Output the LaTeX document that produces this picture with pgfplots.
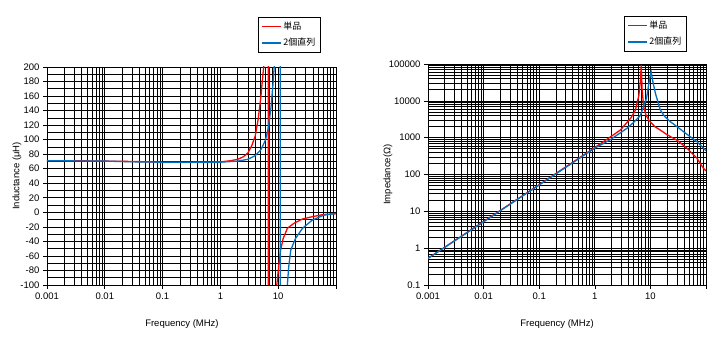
\documentclass[border=0pt]{standalone}
\usepackage{pgfplots}
\pgfplotsset{compat=1.18}
\usepackage{fontspec}
\setmainfont{Liberation Sans}
\newfontfamily\cjk{Noto Sans CJK JP}
\definecolor{xlred}{RGB}{255,0,0}
\definecolor{xlblue}{RGB}{0,112,192}
\pgfplotsset{
  redleg/.style={legend image code/.code={\draw[draw=xlred, line width=1.3pt] (0pt,0pt) -- (19pt,0pt);}},
  blueleg/.style={legend image code/.code={\draw[draw=xlblue, line width=1.3pt] (0pt,0pt) -- (19pt,0pt);}},
}
\begin{document}
\begin{tikzpicture}
\path[use as bounding box] (0,0) rectangle (728pt,340pt);
% ---------------- Left: inductance ----------------
\begin{axis}[
  scale only axis, anchor=south west,
  at={(47pt,55pt)}, width=289pt, height=218pt,
  xmode=log, xmin=0.001, xmax=100,
  xtick={0.001,0.01,0.1,1,10,100},
  xticklabels={0.001,0.01,0.1,1,10,{}},
  minor xtick={0.002,0.003,0.004,0.005,0.006,0.007,0.008,0.009,
               0.02,0.03,0.04,0.05,0.06,0.07,0.08,0.09,
               0.2,0.3,0.4,0.5,0.6,0.7,0.8,0.9,
               2,3,4,5,6,7,8,9,20,30,40,50,60,70,80,90},
  ymin=-100, ymax=200,
  ytick={-100,-80,-60,-40,-20,0,20,40,60,80,100,120,140,160,180,200},
  minor ytick={-90,-70,-50,-30,-10,10,30,50,70,90,110,130,150,170,190},
  xtick pos=bottom, ytick pos=left,
  grid=both,
  major grid style={black, line width=0.65pt},
  minor grid style={black, line width=0.65pt},
  tick align=outside, major tick length=4pt, minor tick length=0pt,
  tick style={black, line width=0.6pt},
  axis line style={black, line width=0.8pt},
  ticklabel style={font=\fontsize{9.5}{11}\selectfont},
  label style={font=\fontsize{9.5}{11}\selectfont},
  /pgf/number format/assume math mode=true,
  xlabel={Frequency (MHz)},
  ylabel={Inductance (μH)},
  ylabel style={at={(axis description cs:-0.104,0.5)}, anchor=center},
  xlabel style={at={(axis description cs:0.467,0)}, anchor=north, yshift=-31pt},
  legend cell align=left,
  legend style={at={(axis description cs:0.730,1.229)}, anchor=north west,
    draw=black, fill=white,
    font=\cjk\fontsize{9}{10}\selectfont, inner xsep=3pt, inner ysep=3pt, row sep=3pt},
]
\addlegendimage{redleg}
\addlegendentry{単品}
\addlegendimage{blueleg}
\addlegendentry{2個直列}
\addplot[color=xlred, line width=1.3pt, forget plot] coordinates {
(0.001,71) (0.003,71) (0.01,70.5) (0.03,70) (0.1,69) (0.3,69) (1,69.5)
(1.5,71) (2,73) (2.5,76.5) (3,82) (3.5,92) (4,105) (4.5,128) (5,158)
(5.3,180) (5.6,200) (5.9,240) (6.3,330) (6.7,700) (6.76,1000)
(6.77,-1000) (9.3,-110) (9.45,-100) (10.4,-68) (11,-52) (12.2,-36)
(14.4,-22) (18.8,-15) (26.3,-9.2) (39,-6) (61,-3) (100,-2)
};
\addplot[color=xlblue, line width=1.3pt, forget plot] coordinates {
(0.001,71) (0.01,70.5) (0.03,69.5) (0.1,69) (0.3,69) (1,69) (2,70.5)
(3,73) (4,78) (5,86) (6,99) (6.8,117) (7.5,144) (8.2,180) (8.6,205)
(9.5,300) (10.3,600) (10.85,1000) (10.86,-1000) (14.2,-110) (14.4,-100)
(15.2,-75) (16.5,-52) (19.9,-36) (26.3,-22) (39,-10.6) (61,-4) (100,-1.5)
};
\end{axis}
% ---------------- Right: impedance ----------------
\begin{axis}[
  scale only axis, anchor=south west,
  at={(428pt,55pt)}, width=278pt, height=221pt,
  xmode=log, xmin=0.001, xmax=100,
  xtick={0.001,0.01,0.1,1,10,100},
  xticklabels={0.001,0.01,0.1,1,10,{}},
  minor xtick={0.002,0.003,0.004,0.005,0.006,0.007,0.008,0.009,
               0.02,0.03,0.04,0.05,0.06,0.07,0.08,0.09,
               0.2,0.3,0.4,0.5,0.6,0.7,0.8,0.9,
               2,3,4,5,6,7,8,9,20,30,40,50,60,70,80,90},
  ymode=log, ymin=0.1, ymax=100000,
  ytick={0.1,1,10,100,1000,10000,100000},
  yticklabels={0.1,1,10,100,1000,10000,100000},
  minor ytick={0.2,0.3,0.4,0.5,0.6,0.7,0.8,0.9,
               2,3,4,5,6,7,8,9,20,30,40,50,60,70,80,90,
               200,300,400,500,600,700,800,900,
               2000,3000,4000,5000,6000,7000,8000,9000,
               20000,30000,40000,50000,60000,70000,80000,90000},
  xtick pos=bottom, ytick pos=left,
  grid=both,
  major grid style={black, line width=0.65pt},
  minor grid style={black, line width=0.65pt},
  tick align=outside, major tick length=4pt, minor tick length=0pt,
  tick style={black, line width=0.6pt},
  axis line style={black, line width=0.8pt},
  ticklabel style={font=\fontsize{9.5}{11}\selectfont},
  label style={font=\fontsize{9.5}{11}\selectfont},
  xlabel={Frequency (MHz)},
  ylabel={Impedance(Ω)},
  ylabel style={at={(axis description cs:-0.144,0.5)}, anchor=center},
  xlabel style={at={(axis description cs:0.464,0)}, anchor=north, yshift=-31pt},
  legend cell align=left,
  legend style={at={(axis description cs:0.705,1.217)}, anchor=north west,
    draw=black, fill=white,
    font=\cjk\fontsize{9}{10}\selectfont, inner xsep=3pt, inner ysep=3pt, row sep=3pt},
]
\addlegendimage{redleg}
\addlegendentry{単品}
\addlegendimage{blueleg}
\addlegendentry{2個直列}
\addplot[color=xlred, line width=1.3pt, forget plot] coordinates {
(0.001,0.53) (0.01,5.3) (0.1,53) (1,540) (2,1100) (2.88,1610) (3.8,2600)
(4.5,3500) (5.37,5600) (6.2,14000) (6.6,35000) (6.85,95000) (7.1,20000)
(7.57,6900) (8.3,4200) (9.33,3000) (12,2000) (15.1,1600) (20,1200)
(30.2,850) (45.7,515) (69,274) (89,150) (100,125)
};
\addplot[color=xlblue, line width=1.3pt, forget plot] coordinates {
(0.001,0.53) (0.01,5.2) (0.1,52) (1,520) (1.9,880) (3.8,1800) (5,2600)
(6.6,4000) (8.5,11700) (9.6,36700) (10.3,62000) (11,35000) (12.3,16000)
(15.1,5600) (18,3800) (22.9,2700) (30,2000) (39.5,1450) (69,776) (100,440)
};
\end{axis}
\end{tikzpicture}
\end{document}
